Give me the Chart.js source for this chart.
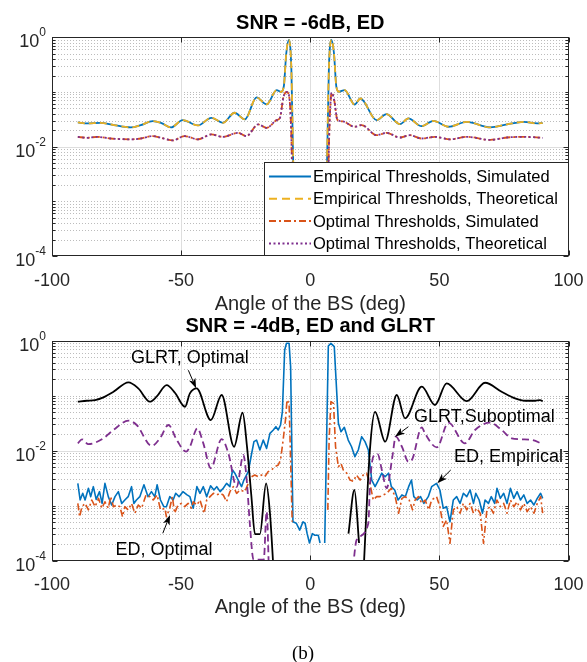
<!DOCTYPE html>
<html>
<head>
<meta charset="utf-8">
<title>SNR panels</title>
<script src="https://cdn.jsdelivr.net/npm/chart.js@4.4.1/dist/chart.umd.min.js"></script>
<style>
  html, body { margin: 0; padding: 0; background: #fff; }
  #wrap { position: relative; width: 587px; height: 662px; overflow: hidden; }
  canvas { position: absolute; left: 0; }
  #topChart { top: 0; }
  #bottomChart { top: 300px; }
  #caption { position: absolute; left: 0; width: 606px; top: 643px; line-height: 20px; text-align: center;
             font-family: "Liberation Serif", "Times New Roman", serif; font-size: 19px; color: #000; }
</style>
</head>
<body>
<div id="wrap">
  <canvas id="topChart" width="587" height="320"></canvas>
  <canvas id="bottomChart" width="587" height="330"></canvas>
  <div id="caption">(b)</div>
</div>
<script>
// axis ticks
const xTicks = [-100, -50, 0, 50, 100];
const yTicks = [1e-4, 1e-2, 1];

// SNR = -6dB, ED   [angle (deg), probability]
const empiricalSim = [[-90,0.0277],[-86.4,0.0266],[-81.2,0.0273],[-76,0.0248],[-69.5,0.0225],[-65.6,0.0248],[-61,0.0293],[-57.8,0.0273],
  [-53.9,0.0225],[-49.4,0.0306],[-43.5,0.0244],[-38.3,0.0337],[-33.8,0.0273],[-29.3,0.0417],[-25.3,0.0315],[-20.8,0.0796],[-16.9,0.0592],
  [-13,0.108],[-11.3,0.1],[-10.2,0.13],[-9.3,0.5],[-8.3,0.9],[-7.3,0.25],[-6.6,0.005],[-5.8,1e-5],[0,null],[5.8,1e-5],[6.5,0.005],
  [7.2,0.25],[8.2,0.9],[9.2,0.5],[10.1,0.125],[11.1,0.101],[13.3,0.108],[17.2,0.059],[19.4,0.076],[25.7,0.0306],[29.5,0.0394],
  [34.7,0.0258],[38,0.0328],[43.1,0.0237],[47.7,0.0297],[53.5,0.0231],[60.6,0.0284],[69.7,0.0225],[76.2,0.0255],[82.7,0.0284],
  [87.9,0.0266],[90,0.027]];
const empiricalTheory = [[-90,0.0277],[-86.4,0.0266],[-81.2,0.0273],[-76,0.0248],[-69.5,0.0225],[-65.6,0.0248],[-61,0.0293],[-57.8,0.0273],
  [-53.9,0.0225],[-49.4,0.0306],[-43.5,0.0244],[-38.3,0.0337],[-33.8,0.0273],[-29.3,0.0417],[-25.3,0.0315],[-20.8,0.0796],[-16.9,0.0592],
  [-13,0.108],[-11.3,0.1],[-10.2,0.13],[-9.3,0.5],[-8.3,0.9],[-7.3,0.25],[-6.6,0.005],[-5.8,1e-5],[0,null],[5.8,1e-5],[6.5,0.005],
  [7.2,0.25],[8.2,0.9],[9.2,0.5],[10.1,0.125],[11.1,0.101],[13.3,0.108],[17.2,0.059],[19.4,0.076],[25.7,0.0306],[29.5,0.0394],
  [34.7,0.0258],[38,0.0328],[43.1,0.0237],[47.7,0.0297],[53.5,0.0231],[60.6,0.0284],[69.7,0.0225],[76.2,0.0255],[82.7,0.0284],
  [87.9,0.0266],[90,0.027]];
const optimalSim = [[-90,0.0151],[-86.4,0.0145],[-82.5,0.0151],[-77.3,0.0141],[-69.5,0.0136],[-65.6,0.0141],[-61,0.0156],[-57.8,0.0145],
  [-53.2,0.013],[-48.7,0.0156],[-43.5,0.0136],[-38.3,0.0167],[-33.8,0.0151],[-28,0.0179],[-24.7,0.0156],[-20.2,0.0255],[-16.9,0.0221],
  [-13,0.0306],[-11.7,0.034],[-10.4,0.08],[-9.1,0.1],[-8.2,0.085],[-7.4,0.02],[-6.8,0.001],[-6,1e-5],[0,null],[6,1e-5],[6.8,0.001],
  [7.4,0.02],[8.3,0.097],[9.3,0.07],[10.5,0.031],[12.5,0.029],[17.2,0.0231],[19.9,0.0248],[25.7,0.0162],[29.5,0.0179],[34.7,0.0147],
  [38.6,0.0162],[43.1,0.0141],[48.3,0.0151],[54.1,0.0136],[60.6,0.0151],[69.7,0.0133],[76.2,0.0147],[82.7,0.0151],[90,0.0145]];
const optimalTheory = [[-90,0.0151],[-86.4,0.0145],[-82.5,0.0151],[-77.3,0.0141],[-69.5,0.0136],[-65.6,0.0141],[-61,0.0156],[-57.8,0.0145],
  [-53.2,0.013],[-48.7,0.0156],[-43.5,0.0136],[-38.3,0.0167],[-33.8,0.0151],[-28,0.0179],[-24.7,0.0156],[-20.2,0.0255],[-16.9,0.0221],
  [-13,0.0306],[-11.7,0.034],[-10.4,0.08],[-9.1,0.1],[-8.2,0.085],[-7.4,0.02],[-6.8,0.001],[-6,1e-5],[0,null],[6,1e-5],[6.8,0.001],
  [7.4,0.02],[8.3,0.097],[9.3,0.07],[10.5,0.031],[12.5,0.029],[17.2,0.0231],[19.9,0.0248],[25.7,0.0162],[29.5,0.0179],[34.7,0.0147],
  [38.6,0.0162],[43.1,0.0141],[48.3,0.0151],[54.1,0.0136],[60.6,0.0151],[69.7,0.0133],[76.2,0.0147],[82.7,0.0151],[90,0.0145]];

// SNR = -4dB, ED and GLRT
const glrtOptimal = [[-90,0.0778],[-86.6,0.081],[-83.3,0.0835],[-80.1,0.0935],[-76.2,0.118],[-70.4,0.175],[-66.6,0.136],[-62.1,0.078],
  [-59.5,0.096],[-55.6,0.156],[-52.4,0.113],[-48.5,0.063],[-46.6,0.11],[-44,0.136],[-38.5,0.0361],[-34.3,0.103],[-29.5,0.0118],
  [-26.2,0.049],[-24.5,0.012],[-22.8,0.0015],[-21.4,3.05e-4],[-19.5,3.05e-4],[-17.1,2.55e-3],[-15.6,7.3e-4],[-13.8,3e-5],[0,null],
  [14.8,3.1e-4],[17.1,1.93e-3],[18.9,2.1e-4],[19.5,null],[20.3,3e-5],[23.1,0.0103],[25.1,0.051],[29,0.0146],[33.5,0.103],[36.7,0.0388],
  [43.2,0.146],[48.3,0.0678],[52.8,0.168],[60.6,0.08],[67.7,0.172],[74.1,0.118],[79.3,0.0895],[83.2,0.081],[87,0.081],[89,0.083],[90,0.079]];
const glrtSuboptimal = [[-90,0.0136],[-88.4,0.0161],[-85.9,0.0132],[-83.3,0.014],[-80.1,0.0168],[-76.2,0.0238],[-70.4,0.0351],
  [-67.2,0.0293],[-61.4,0.0122],[-58.2,0.0168],[-54.9,0.0293],[-51.7,0.0157],[-48.1,0.0096],[-46.6,0.0118],[-43.7,0.0255],[-41.4,0.0136],
  [-38.5,0.0048],[-34.3,0.0163],[-31.7,0.00895],[-28.5,0.0022],[-25.9,0.00835],[-24.6,0.0029],[-23.3,4.1e-4],[-22,1.05e-4],[-18,1.05e-4],
  [-16.9,7.8e-4],[-15.8,3e-5],[0,null],[15.8,3e-5],[18,2.4e-4],[22.5,4.8e-4],[23.1,2.2e-3],[24.4,7.8e-3],[26.1,8.7e-3],[27.7,4.5e-3],
  [29.6,2.07e-3],[31.8,7.8e-3],[33.1,0.018],[35.5,0.0118],[38,0.0063],[39.5,0.007],[43.2,0.0266],[44.4,0.0207],[49,0.0115],[53.5,0.0323],
  [59.9,0.0136],[63.8,0.0238],[69.6,0.0323],[74.1,0.0238],[78,0.0168],[81.9,0.0161],[85.8,0.0157],[90,0.0132]];
const edEmpirical = [[-90,2.55e-3],[-89.1,1.27e-3],[-88.1,1.68e-3],[-87.2,1.27e-3],[-85.9,2.07e-3],[-85,1.46e-3],[-84,2.22e-3],
  [-82.9,1.3e-3],[-81.6,1.8e-3],[-80.6,1.1e-3],[-79.5,2.55e-3],[-78.2,1.46e-3],[-76.9,1.03e-3],[-75.6,1.46e-3],[-74.3,1.8e-3],[-73,1.1e-3],
  [-71.8,1.27e-3],[-70.5,1.46e-3],[-69.2,2.22e-3],[-68.3,1.1e-3],[-67.3,1.27e-3],[-66,1.46e-3],[-64.4,2.4e-3],[-62.8,1.46e-3],
  [-61.5,1.8e-3],[-60.2,1.46e-3],[-59.3,2.4e-3],[-58,1.27e-3],[-56.7,0.96e-3],[-55.7,0.96e-3],[-54.4,1.46e-3],[-53.1,1.27e-3],
  [-52.1,1.68e-3],[-50.8,1.46e-3],[-49.3,1.8e-3],[-47.7,1.57e-3],[-46.6,1.46e-3],[-45.3,0.9e-3],[-43.9,2.22e-3],[-42.7,1.68e-3],
  [-41.4,2.22e-3],[-40.1,1.46e-3],[-38.6,2.3e-3],[-37.3,1.93e-3],[-36.2,2.22e-3],[-34.9,1.8e-3],[-33.7,2.07e-3],[-32.4,2.55e-3],
  [-31.1,2.22e-3],[-30.1,4.46e-3],[-29.2,3.9e-3],[-27.9,2.93e-3],[-26.6,2.22e-3],[-25.7,2.93e-3],[-24,4.16e-3],[-22.8,8.35e-3],
  [-21.8,0.0146],[-20.8,0.0156],[-19.5,0.0103],[-18.2,0.0156],[-16.9,0.011],[-15.6,0.0207],[-14.3,0.0238],[-13.3,0.0273],[-12.4,0.0238],
  [-11.5,0.0293],[-10.8,0.0513],[-9.9,0.678],[-9.2,0.896],[-8.2,0.896],[-7.6,0.337],[-6.7,5.1e-4],[-5.4,4.8e-4],[-4.1,3.6e-4],
  [-2.8,5.1e-4],[-2,4.8e-4],[-1.2,3.1e-4],[-0.3,2.1e-4],[0.8,3.1e-4],[1.8,2.9e-4],[3.1,2.9e-4],[3.8,2.1e-4],[4.7,null],[5.6,2.1e-4],
  [7,0.8],[8,0.896],[9.3,0.78],[10.9,0.0315],[11.9,0.0222],[13.2,0.0266],[14.7,0.0156],[16,0.0118],[17.3,7.78e-3],[18.6,0.0103],
  [19.9,0.018],[21.2,0.0146],[22.5,0.0103],[23.8,2.93e-3],[25.1,2.22e-3],[26.4,2.93e-3],[27.7,3.9e-3],[29,3.37e-3],[30.3,3.9e-3],
  [31.4,2.22e-3],[32.7,1.93e-3],[34,1.27e-3],[35.5,1.57e-3],[36.8,1.46e-3],[38.1,2.22e-3],[39.2,2.93e-3],[40.1,1.46e-3],[41.4,1.27e-3],
  [42.7,1.46e-3],[44,1.1e-3],[45.7,1.46e-3],[47,2.22e-3],[48.9,2.55e-3],[50.2,1.93e-3],[51.5,0.9e-3],[52.8,0.96e-3],[54.1,0.51e-3],
  [55.4,1.27e-3],[56.7,1.46e-3],[58,1.1e-3],[59.3,1.68e-3],[60.6,1.46e-3],[61.9,1.93e-3],[63.2,1.1e-3],[64.1,1.68e-3],[65.4,1.27e-3],
  [66.7,0.73e-3],[67.7,1.27e-3],[69,1.1e-3],[70.1,1.46e-3],[71.4,1.1e-3],[72.3,2.07e-3],[73.6,1.36e-3],[74.9,1.68e-3],[76.2,1.1e-3],
  [77.5,2.07e-3],[78.8,1.36e-3],[80.1,1.8e-3],[81.4,1.27e-3],[82.7,1.57e-3],[84,1.1e-3],[85.3,1.27e-3],[86.6,1.03e-3],[87.9,1.36e-3],
  [89.2,1.68e-3],[90,1.36e-3]];
const edOptimal = [[-90,1.1e-3],[-89.3,0.63e-3],[-88.4,0.96e-3],[-87.2,1.1e-3],[-85.9,0.84e-3],[-84.6,1.27e-3],[-83.3,0.96e-3],
  [-82,1.36e-3],[-80.7,0.9e-3],[-79.5,1.18e-3],[-78.2,0.9e-3],[-77.3,1.46e-3],[-76.2,0.96e-3],[-74.9,1.03e-3],[-73.7,0.96e-3],
  [-72.7,0.63e-3],[-71.8,0.96e-3],[-70.5,0.84e-3],[-69.2,1.1e-3],[-67.9,0.73e-3],[-66.6,1.03e-3],[-65.3,0.9e-3],[-63.6,1.57e-3],
  [-62.1,1.46e-3],[-60.8,1.27e-3],[-59.3,1.57e-3],[-58,0.84e-3],[-56.3,0.9e-3],[-55.7,0.63e-3],[-54.4,0.9e-3],[-53.4,1.46e-3],
  [-52.5,0.73e-3],[-51.2,1.03e-3],[-49.9,1.1e-3],[-48.6,0.96e-3],[-47.3,1.1e-3],[-46,0.9e-3],[-45.3,1.18e-3],[-43.9,1.03e-3],
  [-42.7,1.27e-3],[-41.1,0.73e-3],[-40.1,1.27e-3],[-38.8,1.46e-3],[-37.5,1.68e-3],[-36.2,1.57e-3],[-34.9,1.68e-3],[-33.7,1.57e-3],
  [-32.4,1.18e-3],[-31.1,1.8e-3],[-29.8,2.22e-3],[-28.5,1.68e-3],[-27.2,1.93e-3],[-25.3,1.8e-3],[-24,2.55e-3],[-22.7,3.37e-3],
  [-21.5,3.61e-3],[-20.2,3.37e-3],[-18.9,3.61e-3],[-17.6,3.37e-3],[-16.3,4.16e-3],[-15,4.46e-3],[-13.7,5.1e-3],[-12.4,5.5e-3],
  [-11.5,6.8e-3],[-10.5,0.0156],[-9.6,0.036],[-9,0.0835],[-8.2,0.0727],[-7.6,6.8e-3],[-7,5.1e-4],[0,null],[6.8,8.4e-4],[7.3,0.0156],
  [8,0.0779],[9,0.0727],[9.8,0.0118],[10.9,5.1e-3],[11.9,5.9e-3],[12.8,4.46e-3],[14.1,3.9e-3],[15.4,2.93e-3],[16.7,2.78e-3],
  [17.9,3.61e-3],[19.3,2.93e-3],[20.5,3.61e-3],[21.8,3.9e-3],[23.1,2.55e-3],[24.4,1.27e-3],[25.7,1.46e-3],[27,1.46e-3],[28.3,1.57e-3],
  [29.6,1.68e-3],[31.4,2.07e-3],[32.9,1.46e-3],[34.2,0.73e-3],[35.5,1.36e-3],[36.8,1.46e-3],[38.3,1.27e-3],[39.6,0.84e-3],[40.6,1.27e-3],
  [41.9,1.46e-3],[43.2,1.1e-3],[44.5,1.27e-3],[45.9,0.84e-3],[47,1.27e-3],[48.9,1.46e-3],[50.2,0.96e-3],[51.5,0.42e-3],[52.8,0.55e-3],
  [54.1,0.207e-3],[55.4,0.84e-3],[56.7,0.96e-3],[58,0.73e-3],[59.3,1.1e-3],[60.6,0.84e-3],[61.9,1.1e-3],[63.2,0.73e-3],[64.5,0.9e-3],
  [65.8,0.73e-3],[67.1,0.207e-3],[68.4,0.84e-3],[69.6,0.96e-3],[70.9,0.73e-3],[72.3,1.27e-3],[73.6,0.96e-3],[74.9,1.1e-3],[76.2,0.73e-3],
  [77.5,1.27e-3],[78.8,0.96e-3],[80.1,1.18e-3],[81.4,0.84e-3],[82.7,1.1e-3],[84,0.78e-3],[85.3,0.96e-3],[86.6,0.73e-3],[87.9,1.1e-3],
  [89.2,1.46e-3],[90,0.73e-3]];

const BLUE = '#0072BD', ORANGE = '#D95319', YELLOW = '#EDB120', PURPLE = '#7E2F8E', AXIS = '#262626';
const FONT = '"Liberation Sans", Arial, Helvetica, sans-serif';
Chart.defaults.font.family = FONT;
Chart.defaults.color = AXIS;

function series(pairs, color, dash, width, smooth, order) {
    return {
        data: pairs.map(p => ({ x: p[0], y: p[1] })),
        borderColor: color,
        borderWidth: width,
        borderDash: dash,
        borderJoinStyle: 'round',
        pointRadius: 0,
        fill: false,
        spanGaps: false,
        tension: 0,
        cubicInterpolationMode: smooth ? 'monotone' : 'default',
        order: order
    };
}

function isMajor(v) {
    return yTicks.some(t => Math.abs(Math.log10(t) - Math.log10(v)) < 1e-9);
}

function hline(ctx, x0, x1, y) { ctx.beginPath(); ctx.moveTo(x0, y); ctx.lineTo(x1, y); ctx.stroke(); }
function vline(ctx, x, y0, y1) { ctx.beginPath(); ctx.moveTo(x, y0); ctx.lineTo(x, y1); ctx.stroke(); }

function drawGrid(chart) {
    const ctx = chart.ctx, a = chart.chartArea, xs = chart.scales.x, ys = chart.scales.y;
    ctx.save();
    ctx.lineWidth = 1;
    // dotted minor grid
    ctx.strokeStyle = '#bcbcbc';
    ctx.setLineDash([1, 2]);
    for (let d = -4; d < 0; d++) {
        for (let m = 1; m <= 9; m++) {
            const v = m * Math.pow(10, d);
            if (isMajor(v)) continue;
            hline(ctx, a.left, a.right, Math.round(ys.getPixelForValue(v)) + 0.5);
        }
    }
    // solid major grid
    ctx.setLineDash([]);
    ctx.strokeStyle = '#dedede';
    xTicks.forEach(v => { if (v > xs.min && v < xs.max) vline(ctx, Math.round(xs.getPixelForValue(v)) + 0.5, a.top, a.bottom); });
    yTicks.forEach(v => { if (v > ys.min && v < ys.max) hline(ctx, a.left, a.right, Math.round(ys.getPixelForValue(v)) + 0.5); });
    ctx.restore();
}

function drawFrame(chart) {
    const ctx = chart.ctx, a = chart.chartArea, xs = chart.scales.x, ys = chart.scales.y;
    const L = Math.round(a.left) + 0.5, R = Math.round(a.right) - 0.5;
    const T = Math.round(a.top) + 0.5, B = Math.round(a.bottom) - 0.5;
    ctx.save();
    ctx.strokeStyle = AXIS;
    ctx.lineWidth = 1;
    ctx.strokeRect(L, T, R - L, B - T);
    // inward tick marks
    xTicks.forEach(v => {
        const px = Math.round(xs.getPixelForValue(v)) + 0.5;
        vline(ctx, px, B, B - 5);
        vline(ctx, px, T, T + 5);
    });
    for (let d = -4; d <= 0; d++) {
        for (let m = 1; m <= 9; m++) {
            const v = m * Math.pow(10, d);
            if (v > 1.0001) break;
            const py = Math.round(ys.getPixelForValue(v)) + 0.5;
            const len = isMajor(v) ? 5 : 3;
            hline(ctx, L, L + len, py);
            hline(ctx, R, R - len, py);
        }
    }
    ctx.restore();
}

function drawYLabels(chart) {
    const ctx = chart.ctx, a = chart.chartArea, ys = chart.scales.y;
    ctx.save();
    ctx.fillStyle = AXIS;
    ctx.textAlign = 'left';
    ctx.textBaseline = 'alphabetic';
    yTicks.forEach(t => {
        const py = ys.getPixelForValue(t);
        const ex = String(Math.round(Math.log10(t)));
        ctx.font = '12px ' + FONT;
        const we = ctx.measureText(ex).width;
        ctx.font = '18px ' + FONT;
        const wb = ctx.measureText('10').width;
        const right = a.left - 6;
        ctx.fillText('10', right - we - wb, py + 10);
        ctx.font = '12px ' + FONT;
        ctx.fillText(ex, right - we, py - 1);
    });
    ctx.restore();
}

function drawTitle(chart, text) {
    const ctx = chart.ctx, a = chart.chartArea;
    ctx.save();
    ctx.fillStyle = '#000';
    ctx.font = 'bold 20px ' + FONT;
    ctx.textAlign = 'center';
    ctx.textBaseline = 'alphabetic';
    ctx.fillText(text, (a.left + a.right) / 2, a.top - 8.5);
    ctx.restore();
}

function arrow(ctx, x0, y0, x1, y1) {
    const ang = Math.atan2(y1 - y0, x1 - x0), c = Math.cos(ang), s = Math.sin(ang);
    const len = 10, half = 3.5;
    const bx = x1 - len * c, by = y1 - len * s;
    ctx.beginPath(); ctx.moveTo(x0, y0); ctx.lineTo(bx + 2 * c, by + 2 * s); ctx.stroke();
    ctx.beginPath();
    ctx.moveTo(x1, y1);
    ctx.lineTo(bx + half * s, by - half * c);
    ctx.lineTo(x1 - 0.75 * len * c, y1 - 0.75 * len * s);
    ctx.lineTo(bx - half * s, by + half * c);
    ctx.closePath();
    ctx.fill();
}

function drawNotes(chart, notes) {
    const ctx = chart.ctx, xs = chart.scales.x, ys = chart.scales.y;
    ctx.save();
    ctx.fillStyle = '#000';
    ctx.strokeStyle = '#000';
    ctx.lineWidth = 1;
    ctx.font = '18px ' + FONT;
    ctx.textBaseline = 'middle';
    notes.forEach(n => {
        ctx.textAlign = n.align;
        ctx.fillText(n.text, xs.getPixelForValue(n.at[0]), ys.getPixelForValue(n.at[1]));
        arrow(ctx, xs.getPixelForValue(n.from[0]), ys.getPixelForValue(n.from[1]),
                   xs.getPixelForValue(n.to[0]), ys.getPixelForValue(n.to[1]));
    });
    ctx.restore();
}

function drawLegend(chart, items) {
    const ctx = chart.ctx, a = chart.chartArea;
    const w = 305, h = 94;
    const x0 = Math.round(a.right - w), y0 = Math.round(a.bottom - h);
    ctx.save();
    ctx.fillStyle = '#fff';
    ctx.fillRect(x0, y0, w, h);
    ctx.strokeStyle = AXIS;
    ctx.lineWidth = 1;
    ctx.strokeRect(x0 + 0.5, y0 + 0.5, w - 1, h - 1);
    items.forEach((it, i) => {
        const cy = y0 + 14.5 + i * 22.3;
        ctx.strokeStyle = it.color;
        ctx.lineWidth = 2;
        ctx.setLineDash(it.dash);
        hline(ctx, x0 + 5, x0 + 47, cy);
        ctx.setLineDash([]);
        ctx.fillStyle = '#000';
        ctx.font = '16.5px ' + FONT;
        ctx.textAlign = 'left';
        ctx.textBaseline = 'middle';
        ctx.fillText(it.label, x0 + 49, cy + 1);
    });
    ctx.restore();
}

function decor(cfg) {
    return {
        id: 'decor',
        beforeDatasetsDraw(chart) { drawGrid(chart); },
        afterDatasetsDraw(chart) {
            drawFrame(chart);
            drawYLabels(chart);
            drawTitle(chart, cfg.title);
            if (cfg.notes) drawNotes(chart, cfg.notes);
            if (cfg.legend) drawLegend(chart, cfg.legend);
        }
    };
}

function makeChart(id, datasets, cfg) {
    return new Chart(document.getElementById(id), {
        type: 'line',
        data: { datasets: datasets },
        options: {
            responsive: false,
            animation: false,
            events: [],
            layout: { padding: { top: cfg.padTop, right: 18.5, left: 0, bottom: 0 } },
            plugins: { legend: { display: false }, tooltip: { enabled: false } },
            scales: {
                x: {
                    type: 'linear', min: -100, max: 100,
                    afterBuildTicks: s => { s.ticks = xTicks.map(v => ({ value: v })); },
                    afterFit: s => { s.height = cfg.xHeight; s.paddingLeft = 0; s.paddingRight = 0; },
                    grid: { display: false, drawTicks: false },
                    border: { display: false },
                    ticks: { font: { size: 18 }, color: AXIS, padding: 14, maxRotation: 0, autoSkip: false,
                             callback: v => String(v) },
                    title: { display: true, text: 'Angle of the BS (deg)', color: AXIS, font: { size: 20 },
                             padding: { top: 0, bottom: cfg.titlePad } }
                },
                y: {
                    type: 'logarithmic', min: 1e-4, max: 1,
                    afterFit: s => { s.width = 52; },
                    ticks: { display: false },
                    grid: { display: false },
                    border: { display: false }
                }
            }
        },
        plugins: [decor(cfg)]
    });
}

makeChart('topChart', [
    series(empiricalSim, BLUE, [], 1.8, true, 3),
    series(empiricalTheory, YELLOW, [7, 4], 1.8, true, 2),
    series(optimalSim, ORANGE, [7, 3, 2, 3], 1.8, true, 1),
    series(optimalTheory, PURPLE, [2, 2.5], 1.8, true, 0)
], {
    title: 'SNR = -6dB, ED', padTop: 37.3, xHeight: 64, titlePad: 4,
    legend: [
        { label: 'Empirical Thresholds, Simulated', color: BLUE, dash: [] },
        { label: 'Empirical Thresholds, Theoretical', color: YELLOW, dash: [8, 5] },
        { label: 'Optimal Thresholds, Simulated', color: ORANGE, dash: [7, 3, 2, 3] },
        { label: 'Optimal Thresholds, Theoretical', color: PURPLE, dash: [2, 2.5] }
    ]
});

makeChart('bottomChart', [
    series(edEmpirical, BLUE, [], 1.6, false, 3),
    series(edOptimal, ORANGE, [7, 3, 2, 3], 1.6, false, 2),
    series(glrtOptimal, '#000', [], 1.8, true, 1),
    series(glrtSuboptimal, PURPLE, [7, 4], 1.8, true, 0)
], {
    title: 'SNR = -4dB, ED and GLRT', padTop: 40.7, xHeight: 69.3, titlePad: 11,
    notes: [
        { text: 'GLRT, Optimal', at: [-46.6, 0.48], align: 'center', from: [-47.2, 0.29], to: [-44.2, 0.136] },
        { text: 'ED, Optimal', at: [-56.6, 1.57e-4], align: 'center', from: [-57.1, 3.15e-4], to: [-54.3, 6.8e-4] },
        { text: 'GLRT,Suboptimal', at: [40.2, 0.0415], align: 'left', from: [38.0, 0.0273], to: [32.8, 0.018] },
        { text: 'ED, Empirical', at: [55.7, 7.8e-3], align: 'left', from: [54.4, 4.46e-3], to: [49.2, 2.55e-3] }
    ]
});
</script>
</body>
</html>
